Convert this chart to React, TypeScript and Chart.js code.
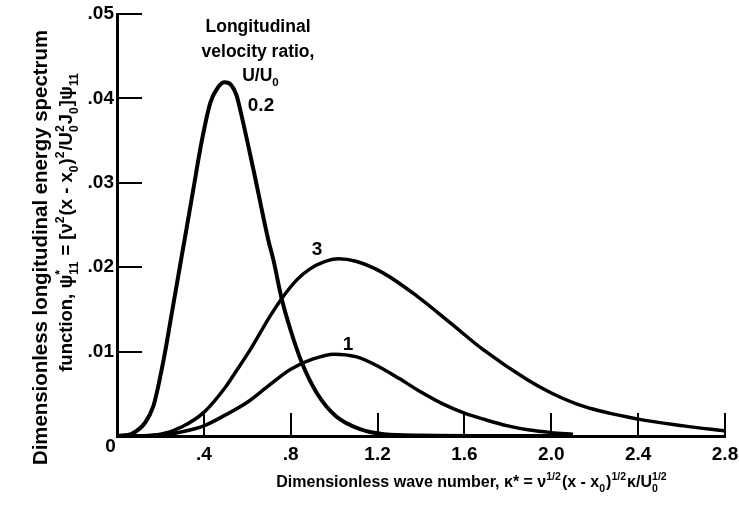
import React, { useEffect, useRef } from 'react';
import { Chart, registerables } from 'chart.js';

Chart.register(...registerables);

const FONT = '"Liberation Sans", Arial, Helvetica, sans-serif';

// ---- axis ticks ----
const xTickValues = [0, 0.4, 0.8, 1.2, 1.6, 2.0, 2.4, 2.8];
const xTickLabels = ['', '.4', '.8', '1.2', '1.6', '2.0', '2.4', '2.8'];
const yTickValues = [0, 0.01, 0.02, 0.03, 0.04, 0.05];
const yTickLabels = ['', '.01', '.02', '.03', '.04', '.05'];
const originLabel = '0';

// ---- series: longitudinal velocity ratio U/U0 ----
const ratio02X = [0, 0.07, 0.13, 0.167, 0.19, 0.221, 0.25, 0.283, 0.317, 0.35, 0.39, 0.43, 0.465, 0.495, 0.525, 0.55, 0.567, 0.628, 0.697, 0.72, 0.759, 0.8, 0.851, 0.92, 1.01, 1.12, 1.23, 1.4, 1.7, 2.1];
const ratio02Y = [0, 0.0003, 0.0016, 0.0035, 0.0059, 0.0099, 0.0142, 0.0191, 0.0241, 0.029, 0.0349, 0.0395, 0.0413, 0.0419, 0.0416, 0.0404, 0.0387, 0.0316, 0.0232, 0.0209, 0.0162, 0.0125, 0.0087, 0.0051, 0.0023, 0.0008, 0.0002, 0.00005, 0.00001, 0];

const ratio3X = [0, 0.1, 0.2, 0.3, 0.4, 0.5, 0.544, 0.613, 0.705, 0.759, 0.828, 0.889, 0.95, 1.02, 1.1, 1.227, 1.38, 1.535, 1.688, 1.888, 2.0, 2.15, 2.4, 2.61, 2.8];
const ratio3Y = [0, 0.00003, 0.0002, 0.0011, 0.0028, 0.0058, 0.0075, 0.0102, 0.0142, 0.0163, 0.0185, 0.0198, 0.0206, 0.021, 0.0207, 0.0193, 0.0166, 0.0134, 0.0102, 0.0067, 0.0051, 0.0035, 0.002, 0.0012, 0.0006];

const ratio1X = [0, 0.1, 0.2, 0.3, 0.4, 0.5, 0.6, 0.7, 0.8, 0.9, 1.0, 1.1, 1.2, 1.3, 1.4, 1.5, 1.6, 1.7, 1.8, 1.9, 2.0, 2.1];
const ratio1Y = [0, 0.00001, 0.0001, 0.0005, 0.0012, 0.0025, 0.004, 0.006, 0.0079, 0.0091, 0.0097, 0.0094, 0.0083, 0.0068, 0.0052, 0.0038, 0.0027, 0.0019, 0.0012, 0.0007, 0.0004, 0.0002];

const seriesLabels = ['0.2', '1', '3'];
const legendLines = ['Longitudinal', 'velocity ratio,'];

type Seg = { t?: string; b?: string; p?: string };

const yTitle1 = 'Dimensionless longitudinal energy spectrum';
const yTitle2: Seg[] = [
  { t: 'function, ψ' }, { b: '11', p: '*' }, { t: ' = [ν' }, { p: '2' }, { t: '(x - x' }, { b: '0' },
  { t: ')' }, { p: '2' }, { t: '/U' }, { b: '0', p: '2' }, { t: 'J' }, { b: '0' }, { t: ']ψ' }, { b: '11' },
];
const xTitle: Seg[] = [
  { t: 'Dimensionless wave number, κ* = ν' }, { p: '1/2' }, { t: '(x - x' }, { b: '0' }, { t: ')' },
  { p: '1/2' }, { t: 'κ/U' }, { b: '0', p: '1/2' },
];
const ratioTitle: Seg[] = [{ t: 'U/U' }, { b: '0' }];

function toPoints(xs: number[], ys: number[]) {
  return xs.map((x, i) => ({ x, y: ys[i] }));
}

function font(size: number) {
  return `bold ${size}px ${FONT}`;
}

function drawRich(ctx: CanvasRenderingContext2D, segs: Seg[], x: number, y: number, size: number, align: 'center' | 'left') {
  const small = size * 0.66;
  const widths = segs.map((s) => {
    if (s.t !== undefined) {
      ctx.font = font(size);
      return ctx.measureText(s.t).width;
    }
    ctx.font = font(small);
    const wb = s.b ? ctx.measureText(s.b).width : 0;
    const wp = s.p ? ctx.measureText(s.p).width : 0;
    return Math.max(wb, wp) + 1;
  });
  const total = widths.reduce((a, b) => a + b, 0);
  let cx = align === 'center' ? x - total / 2 : x;
  ctx.textAlign = 'left';
  ctx.textBaseline = 'alphabetic';
  segs.forEach((s, i) => {
    if (s.t !== undefined) {
      ctx.font = font(size);
      ctx.fillText(s.t, cx, y);
    } else {
      ctx.font = font(small);
      if (s.b) ctx.fillText(s.b, cx, y + size * 0.3);
      if (s.p) ctx.fillText(s.p, cx, y - size * 0.45);
    }
    cx += widths[i];
  });
}

const textPlugin = {
  id: 'textPlugin',
  afterDraw(chart: any) {
    const ctx: CanvasRenderingContext2D = chart.ctx;
    ctx.save();
    ctx.fillStyle = '#000';

    // origin label
    ctx.font = font(19);
    ctx.textAlign = 'center';
    ctx.textBaseline = 'middle';
    ctx.fillText(originLabel, 110.5, 447);

    // legend heading
    ctx.textBaseline = 'alphabetic';
    ctx.font = font(17.5);
    ctx.fillText(legendLines[0], 258, 32);
    ctx.fillText(legendLines[1], 258, 57);
    drawRich(ctx, ratioTitle, 261, 81, 17.5, 'center');

    // series labels
    ctx.font = font(19);
    ctx.textAlign = 'center';
    ctx.fillText(seriesLabels[0], 261, 111);
    ctx.fillText(seriesLabels[2], 317, 255);
    ctx.fillText(seriesLabels[1], 348, 350);

    // x title
    drawRich(ctx, xTitle, 472, 487, 16, 'center');

    // y title (rotated)
    ctx.save();
    ctx.translate(47, 247.5);
    ctx.rotate(-Math.PI / 2);
    ctx.font = font(20.4);
    ctx.textAlign = 'center';
    ctx.textBaseline = 'alphabetic';
    ctx.fillText(yTitle1, 0, 0);
    ctx.restore();

    ctx.save();
    ctx.translate(72, 222);
    ctx.rotate(-Math.PI / 2);
    drawRich(ctx, yTitle2, 0, 0, 18.5, 'center');
    ctx.restore();

    ctx.restore();
  },
};

export default function App() {
  const ref = useRef<HTMLCanvasElement | null>(null);

  useEffect(() => {
    if (!ref.current) return;
    const lineStyle = {
      borderColor: '#000',
      backgroundColor: '#000',
      pointRadius: 0,
      fill: false,
      cubicInterpolationMode: 'monotone' as const,
    };
    const chart = new Chart(ref.current, {
      type: 'line',
      data: {
        datasets: [
          { label: seriesLabels[0], data: toPoints(ratio02X, ratio02Y), borderWidth: 4, ...lineStyle },
          { label: seriesLabels[1], data: toPoints(ratio1X, ratio1Y), borderWidth: 3.5, ...lineStyle },
          { label: seriesLabels[2], data: toPoints(ratio3X, ratio3Y), borderWidth: 3.5, ...lineStyle },
        ],
      },
      options: {
        animation: false,
        responsive: false,
        maintainAspectRatio: false,
        layout: { padding: { left: 0, top: 14, right: 14, bottom: 0 } },
        plugins: { legend: { display: false }, tooltip: { enabled: false }, title: { display: false } },
        scales: {
          x: {
            type: 'linear',
            min: 0,
            max: 2.8,
            afterBuildTicks: (scale: any) => {
              scale.ticks = xTickValues.map((v) => ({ value: v }));
            },
            afterFit: (scale: any) => {
              scale.height = 71;
              scale.paddingLeft = 0;
              scale.paddingRight = 0;
              scale.paddingTop = 0;
              scale.paddingBottom = 0;
            },
            ticks: {
              autoSkip: false,
              maxRotation: 0,
              padding: 30,
              color: '#000',
              font: { family: FONT, size: 19, weight: 'bold' },
              callback: (v: any) => {
                const i = xTickValues.findIndex((t) => Math.abs(t - Number(v)) < 1e-6);
                return i >= 0 ? xTickLabels[i] : '';
              },
            },
            grid: { drawOnChartArea: false, drawTicks: true, tickLength: -23, lineWidth: 2, color: '#000' },
            border: { display: true, color: '#000', width: 3 },
          },
          y: {
            type: 'linear',
            min: 0,
            max: 0.05,
            afterBuildTicks: (scale: any) => {
              scale.ticks = yTickValues.map((v) => ({ value: v }));
            },
            afterFit: (scale: any) => {
              scale.width = 117;
              scale.paddingLeft = 0;
              scale.paddingRight = 0;
              scale.paddingTop = 0;
              scale.paddingBottom = 0;
            },
            ticks: {
              autoSkip: false,
              padding: 28,
              color: '#000',
              font: { family: FONT, size: 19, weight: 'bold' },
              callback: (v: any) => {
                const i = yTickValues.findIndex((t) => Math.abs(t - Number(v)) < 1e-9);
                return i >= 0 ? yTickLabels[i] : '';
              },
            },
            grid: { drawOnChartArea: false, drawTicks: true, tickLength: -25, lineWidth: 2, color: '#000' },
            border: { display: true, color: '#000', width: 3 },
          },
        },
      },
      plugins: [textPlugin],
    } as any);
    return () => chart.destroy();
  }, []);

  return (
    <div style={{ position: 'fixed', left: 0, top: 0, width: 739, height: 507, background: '#fff' }}>
      <canvas ref={ref} width={739} height={507} style={{ width: 739, height: 507, display: 'block' }} />
    </div>
  );
}
